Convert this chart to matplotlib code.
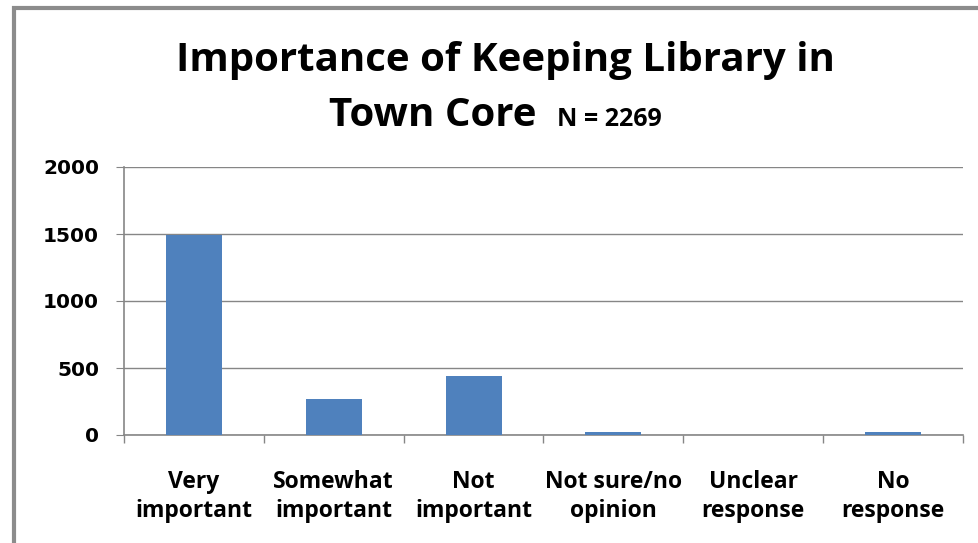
import matplotlib
matplotlib.use("Agg")
import matplotlib.pyplot as plt
from matplotlib.patches import Rectangle

categories = ["Very\nimportant", "Somewhat\nimportant", "Not\nimportant",
              "Not sure/no\nopinion", "Unclear\nresponse", "No\nresponse"]
counts = [1490, 265, 440, 25, 0, 25]
yticks = [0, 500, 1000, 1500, 2000]

W, H = 979, 543
fig = plt.figure(figsize=(W / 100, H / 100), dpi=100)
grey = "#868686"
lab_font = ["Open Sans", "DejaVu Sans"]

# outer chart border (only left and top visible)
fig.patches.append(Rectangle((14 / W, -0.1), 1.2, (H - 8) / H + 0.1, transform=fig.transFigure,
                             fill=False, edgecolor="#8c8c8c", linewidth=3))

ax = fig.add_axes([124 / W, 1 - 435 / H, (963 - 124) / W, (435 - 167) / H])
x = list(range(len(categories)))
ax.bar(x, counts, width=0.4, color="#4f81bd", zorder=3)

ax.set_xlim(-0.5, 5.5)
ax.set_ylim(0, 2000)
ax.set_yticks(yticks)
ax.set_yticklabels([str(v) for v in yticks], fontsize=14.5, fontweight="bold", family="DejaVu Sans")
ax.yaxis.grid(True, color=grey, linewidth=1, zorder=0)
ax.tick_params(axis="y", length=6, color=grey, pad=12)

ax.set_xticks(x)
ax.set_xticklabels(categories, fontsize=16.5, fontweight="bold", family=lab_font, linespacing=1.3)
ax.tick_params(axis="x", length=0, pad=25)
ax.set_xticks([i - 0.5 for i in range(len(categories) + 1)], minor=True)
ax.tick_params(axis="x", which="minor", length=6, color=grey, width=1)

for s in ["top", "right"]:
    ax.spines[s].set_visible(False)
for s in ["left", "bottom"]:
    ax.spines[s].set_color(grey)
    ax.spines[s].set_linewidth(1.2)

fig.text(505 / W, 1 - 71 / H, "Importance of Keeping Library in", ha="center", va="baseline",
         fontsize=29, fontweight="bold", family=lab_font)
fig.text(537 / W, 1 - 126 / H, "Town Core", ha="right", va="baseline",
         fontsize=29, fontweight="bold", family=lab_font)
fig.text(557 / W, 1 - 126 / H, "N = 2269", ha="left", va="baseline",
         fontsize=18, fontweight="bold", family=lab_font)

fig.savefig("out.png", dpi=100)
